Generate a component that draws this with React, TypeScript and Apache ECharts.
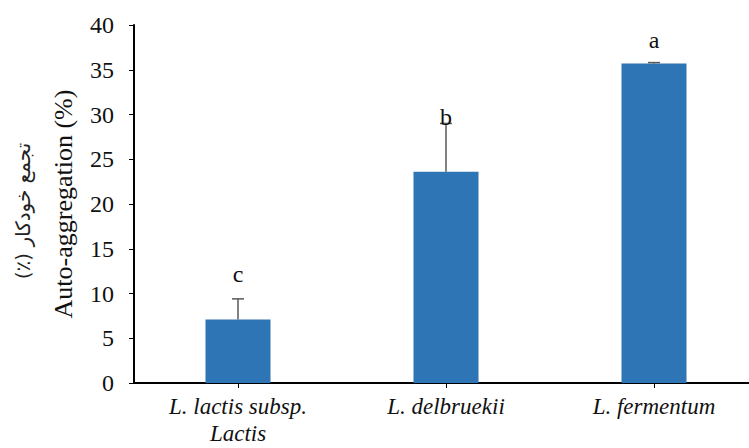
import React, { useEffect, useRef } from "react";
import * as echarts from "echarts";

const categories = ["L. lactis subsp.\nLactis", "L. delbruekii", "L. fermentum"];
const values = [7.1, 23.6, 35.7];
const errorTops = [9.4, 29.0, 35.8];
const letters = ["c", "b", "a"];
const letterPos = [12.2, 29.7, 38.3];
const yTicks = { min: 0, max: 40, interval: 5 };

export default function App() {
  const ref = useRef<HTMLDivElement>(null);
  useEffect(() => {
    document.body.style.margin = "0";
    document.body.style.overflow = "hidden";
    document.documentElement.style.overflow = "hidden";
    const chart = echarts.init(ref.current!, null, { renderer: "svg" });
    const serif = "Liberation Serif";
    chart.setOption({
      animation: false,
      backgroundColor: "#ffffff",
      grid: {
        left: 134,
        top: 25,
        width: 624,
        height: 358,
        containLabel: false,
        outerBoundsMode: "none",
      },
      xAxis: {
        type: "category",
        data: categories,
        axisLine: { lineStyle: { color: "#000", width: 2 } },
        axisTick: { show: true, alignWithLabel: true, length: 5, lineStyle: { color: "#000" } },
        axisLabel: {
          fontFamily: serif,
          fontStyle: "italic",
          fontSize: 23,
          color: "#111",
          margin: 10,
          lineHeight: 27,
        },
      },
      yAxis: {
        type: "value",
        min: yTicks.min,
        max: yTicks.max,
        interval: yTicks.interval,
        name: "Auto-aggregation (%)",
        nameLocation: "middle",
        nameRotate: 90,
        nameGap: 58,
        nameTextStyle: { fontFamily: serif, fontSize: 26, color: "#111" },
        splitLine: { show: false },
        axisLine: { show: true, lineStyle: { color: "#000", width: 2 } },
        axisTick: { show: true, length: 5, lineStyle: { color: "#000" } },
        axisLabel: { fontFamily: serif, fontSize: 24, color: "#111", margin: 20 },
      },
      graphic: [
        {
          type: "text",
          x: 23,
          y: 211,
          rotation: Math.PI / 2,
          style: {
            text: "\u202Bتجمع خودکار (٪)\u202C",
            fontFamily: "DejaVu Sans",
            fontSize: 20,
            fill: "#222",
            textAlign: "center",
            textVerticalAlign: "middle",
          },
        },
      ],
      series: [
        {
          type: "bar",
          data: values,
          barWidth: 65,
          itemStyle: { color: "#2e75b6" },
        },
        {
          type: "custom",
          data: categories.map((_, i) => [i, values[i], errorTops[i], letterPos[i]]),
          renderItem: (params: any, api: any) => {
            const i = api.value(0);
            const base = api.coord([i, api.value(1)]);
            const top = api.coord([i, api.value(2)]);
            const lp = api.coord([i, api.value(3)]);
            const half = 6;
            return {
              type: "group",
              children: [
                {
                  type: "line",
                  shape: { x1: base[0], y1: base[1], x2: top[0], y2: top[1] },
                  style: { stroke: "#595959", lineWidth: 1.5 },
                },
                {
                  type: "line",
                  shape: { x1: top[0] - half, y1: top[1], x2: top[0] + half, y2: top[1] },
                  style: { stroke: "#595959", lineWidth: 1.5 },
                },
                {
                  type: "text",
                  x: lp[0],
                  y: lp[1],
                  style: {
                    text: letters[i],
                    fontFamily: serif,
                    fontSize: 24,
                    fill: "#111",
                    textAlign: "center",
                    textVerticalAlign: "middle",
                  },
                },
              ],
            };
          },
          z: 10,
        },
      ],
    });
    return () => chart.dispose();
  }, []);
  return (
    <div style={{ width: 749, height: 448, overflow: "hidden", position: "relative" }}>
      <div ref={ref} style={{ width: 749, height: 448 }} />
    </div>
  );
}
